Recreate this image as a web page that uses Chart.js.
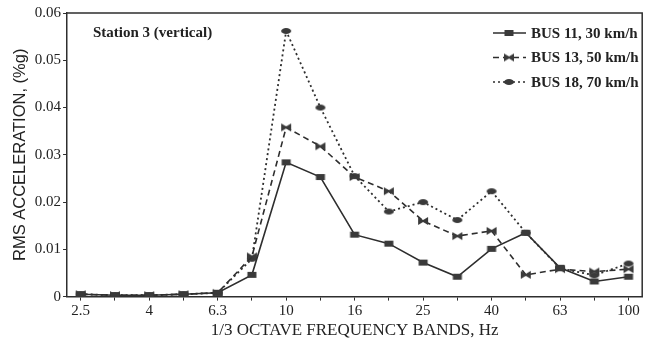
<!DOCTYPE html>
<html>
<head>
<meta charset="utf-8">
<script src="https://cdn.jsdelivr.net/npm/chart.js@4/dist/chart.umd.min.js"></script>
<style>
  html, body { margin: 0; padding: 0; background: #fff; }
  #wrap { width: 649px; height: 341px; position: relative; }
</style>
</head>
<body>
<div id="wrap"><canvas id="chart"></canvas></div>
<script>
// === DATA ===
const bands = ['2.5','3.15','4','5','6.3','8','10','12.5','16','20','25','31.5','40','50','63','80','100'];
const bus11 = [0.0005,0.0003,0.0003,0.0005,0.0008,0.0046,0.0284,0.0253,0.0131,0.0112,0.0072,0.0042,0.0101,0.0135,0.0061,0.0032,0.0042];
const bus13 = [0.0005,0.0003,0.0003,0.0005,0.0008,0.0085,0.0358,0.0318,0.0253,0.0223,0.0160,0.0128,0.0139,0.0046,0.0058,0.0053,0.0058];
const bus18 = [0.0005,0.0003,0.0003,0.0005,0.0008,0.0080,0.0562,0.0400,0.0255,0.0180,0.0200,0.0162,0.0223,0.0135,0.0060,0.0045,0.0070];
const yTicks = [0,0.01,0.02,0.03,0.04,0.05,0.06];
const seriesLabels = ['BUS 11, 30 km/h','BUS 13, 50 km/h','BUS 18, 70 km/h'];

const INK = '#2e2e2e';
const SERIF = '"Liberation Serif", "DejaVu Serif", serif';

// point markers drawn on small canvases
function marker(kind) {
  const c = document.createElement('canvas');
  c.width = 12; c.height = 10;
  const g = c.getContext('2d');
  g.fillStyle = '#3a3a3a';
  if (kind === 'rect') {
    g.fillRect(1.5, 2, 9, 6);
  } else if (kind === 'bowtie') {
    g.beginPath();
    g.moveTo(1, 1); g.lineTo(6, 4); g.lineTo(11, 1);
    g.lineTo(11, 9); g.lineTo(6, 6); g.lineTo(1, 9);
    g.closePath(); g.fill();
  } else {
    g.beginPath();
    g.ellipse(6, 5, 5, 3, 0, 0, Math.PI * 2);
    g.fill();
  }
  return c;
}

function toPoints(arr) { return arr.map((v, i) => ({ x: i, y: v })); }

// box border + legend + station note
const decor = {
  id: 'decor',
  afterDraw(chart) {
    const { ctx, chartArea: a } = chart;
    ctx.save();
    ctx.strokeStyle = INK; ctx.lineWidth = 1.5;
    ctx.beginPath();
    ctx.moveTo(a.left, a.top); ctx.lineTo(a.right, a.top); ctx.lineTo(a.right, a.bottom);
    ctx.stroke();

    ctx.fillStyle = '#222';
    ctx.font = 'bold 15px ' + SERIF;
    ctx.textBaseline = 'middle';
    ctx.fillText('Station 3 (vertical)', 93, 33);

    chart.data.datasets.forEach((ds, i) => {
      const y = 33 + i * 24.5;
      ctx.strokeStyle = INK; ctx.lineWidth = 1.5;
      ctx.setLineDash(ds.borderDash || []);
      ctx.beginPath(); ctx.moveTo(493, y); ctx.lineTo(526, y); ctx.stroke();
      ctx.setLineDash([]);
      ctx.drawImage(ds.pointStyle, 503, y - 5);
      ctx.fillStyle = '#222';
      ctx.font = 'bold 15px ' + SERIF;
      ctx.fillText(ds.label, 531, y + 1);
    });
    ctx.restore();
  }
};

new Chart(document.getElementById('chart'), {
  type: 'line',
  data: {
    datasets: [
      { label: seriesLabels[0], data: toPoints(bus11), borderColor: INK, borderWidth: 1.6, pointStyle: marker('rect'), pointRadius: 5 },
      { label: seriesLabels[1], data: toPoints(bus13), borderColor: INK, borderWidth: 1.6, borderDash: [6, 4], pointStyle: marker('bowtie'), pointRadius: 5 },
      { label: seriesLabels[2], data: toPoints(bus18), borderColor: INK, borderWidth: 1.8, borderDash: [2, 3], pointStyle: marker('oval'), pointRadius: 5 }
    ]
  },
  options: {
    responsive: true,
    maintainAspectRatio: false,
    animation: false,
    layout: { padding: { top: 13, right: 4, left: 9, bottom: 0 } },
    plugins: { legend: { display: false }, tooltip: { enabled: false } },
    scales: {
      x: {
        type: 'linear', min: -0.4, max: 16.4,
        afterBuildTicks: axis => { axis.ticks = bands.map((b, i) => ({ value: i })); },
        ticks: {
          autoSkip: false, maxRotation: 0, color: '#222', padding: 1,
          font: { family: SERIF, size: 15 },
          callback: v => (v % 2 === 0 ? bands[v] : '')
        },
        grid: { drawOnChartArea: false, tickLength: 4, color: INK },
        border: { color: INK, width: 1.5 },
        title: { display: true, text: '1/3 OCTAVE FREQUENCY BANDS, Hz', color: '#222', padding: 0, font: { family: SERIF, size: 17 } }
      },
      y: {
        min: 0, max: 0.06,
        afterBuildTicks: axis => { axis.ticks = yTicks.map(v => ({ value: v })); },
        ticks: {
          color: '#222', padding: 2,
          font: { family: SERIF, size: 15 },
          callback: v => (v === 0 ? '0' : v.toFixed(2))
        },
        grid: { drawOnChartArea: false, tickLength: 4, color: INK },
        border: { color: INK, width: 1.5 },
        title: { display: true, text: 'RMS ACCELERATION, (%g)', color: '#222', padding: 2, font: { family: '"Liberation Sans", sans-serif', size: 16.5 } }
      }
    }
  },
  plugins: [decor]
});
</script>
</body>
</html>
